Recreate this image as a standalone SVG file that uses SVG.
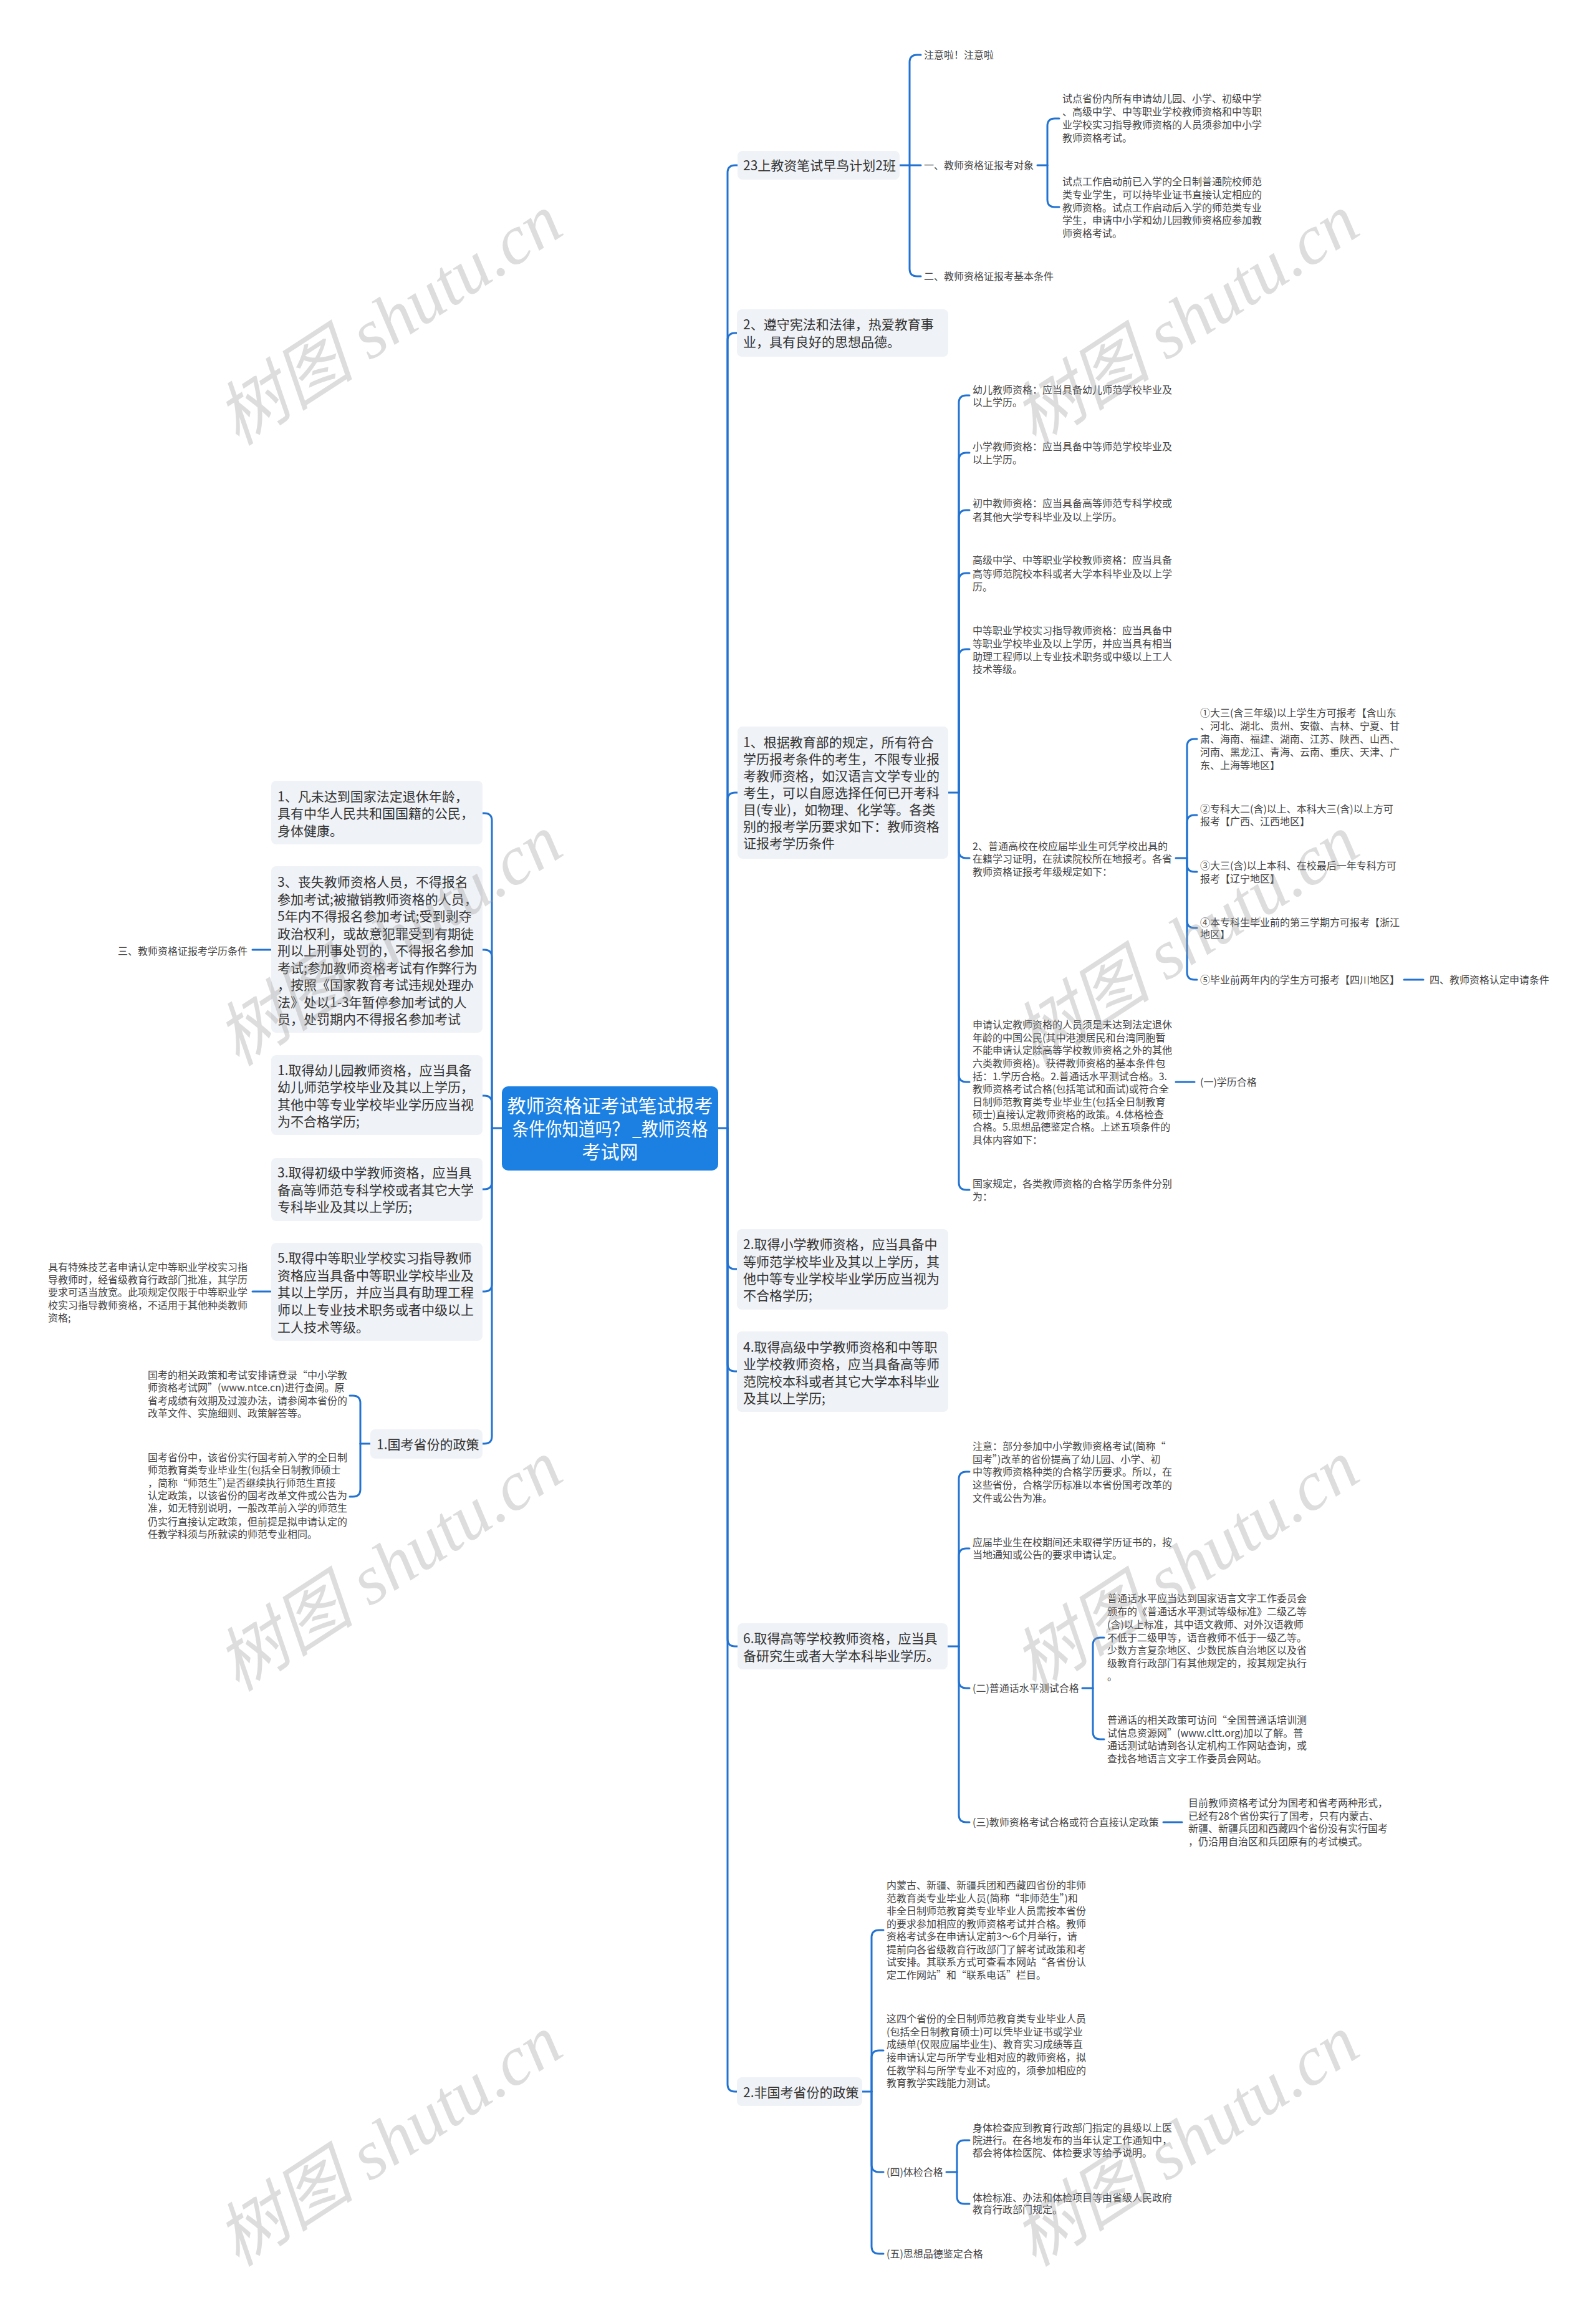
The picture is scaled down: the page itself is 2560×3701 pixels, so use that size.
<svg xmlns="http://www.w3.org/2000/svg" width="2560" height="3701" viewBox="0 0 2560 3701">
<style>
text{font-family:"Noto Sans CJK SC","Noto Sans",sans-serif}
.b{fill:#eff2f6}
.t1{font-size:21px;fill:#333}
.t2{font-size:16px;fill:#444}
.c{fill:none;stroke:#2273d1;stroke-width:3;stroke-linecap:round}
.wm{font-family:"Liberation Serif","Noto Sans CJK SC",serif;font-style:italic;font-size:112px;fill:#9a9a9a;opacity:0.33;text-anchor:middle}
</style>
<rect width="2560" height="3701" fill="#ffffff"/>

<g id="connectors">
<path class="c" d="M1152 1809 H1167"/>
<path class="c" d="M1167 1809 V277 Q1167 265 1179 265 H1183"/>
<path class="c" d="M1167 1809 V546 Q1167 534 1179 534 H1182"/>
<path class="c" d="M1167 1809 V1283 Q1167 1271 1179 1271 H1183"/>
<path class="c" d="M1167 1809 V2023 Q1167 2035 1179 2035 H1182"/>
<path class="c" d="M1167 1809 V2187 Q1167 2199 1179 2199 H1182"/>
<path class="c" d="M1167 1809 V2628 Q1167 2640 1179 2640 H1183"/>
<path class="c" d="M1167 1809 V3342 Q1167 3354 1179 3354 H1182"/>

<path class="c" d="M1443 265 H1459"/>
<path class="c" d="M1459 265 V100 Q1459 88 1471 88 H1477"/>
<path class="c" d="M1459 265 H1477"/>
<path class="c" d="M1459 265 V431 Q1459 443 1471 443 H1477"/>

<path class="c" d="M1664 265 H1680"/>
<path class="c" d="M1680 265 V202 Q1680 190 1692 190 H1699"/>
<path class="c" d="M1680 265 V320 Q1680 332 1692 332 H1699"/>

<path class="c" d="M1521 1271 H1538"/>
<path class="c" d="M1538 1271 V646 Q1538 634 1550 634 H1555"/>
<path class="c" d="M1538 1271 V738 Q1538 726 1550 726 H1555"/>
<path class="c" d="M1538 1271 V830 Q1538 818 1550 818 H1555"/>
<path class="c" d="M1538 1271 V931 Q1538 919 1550 919 H1555"/>
<path class="c" d="M1538 1271 V1053 Q1538 1041 1550 1041 H1555"/>
<path class="c" d="M1538 1271 V1364 Q1538 1376 1550 1376 H1555"/>
<path class="c" d="M1538 1271 V1723 Q1538 1735 1550 1735 H1555"/>
<path class="c" d="M1538 1271 V1896 Q1538 1908 1550 1908 H1555"/>

<path class="c" d="M1886 1376 H1904"/>
<path class="c" d="M1904 1376 V1197 Q1904 1185 1916 1185 H1920"/>
<path class="c" d="M1904 1376 V1319 Q1904 1307 1916 1307 H1920"/>
<path class="c" d="M1904 1376 V1386 Q1904 1398 1916 1398 H1920"/>
<path class="c" d="M1904 1376 V1476 Q1904 1488 1916 1488 H1920"/>
<path class="c" d="M1904 1376 V1559 Q1904 1571 1916 1571 H1920"/>
<path class="c" d="M2252 1571 H2283"/>
<path class="c" d="M1886 1735 H1916"/>

<path class="c" d="M1520 2640 H1538"/>
<path class="c" d="M1538 2640 V2372 Q1538 2360 1550 2360 H1555"/>
<path class="c" d="M1538 2640 V2495 Q1538 2483 1550 2483 H1555"/>
<path class="c" d="M1538 2640 V2695 Q1538 2707 1550 2707 H1555"/>
<path class="c" d="M1538 2640 V2910 Q1538 2922 1550 2922 H1555"/>

<path class="c" d="M1736 2707 H1753"/>
<path class="c" d="M1753 2707 V2638 Q1753 2626 1765 2626 H1771"/>
<path class="c" d="M1753 2707 V2777 Q1753 2789 1765 2789 H1771"/>
<path class="c" d="M1866 2922 H1896"/>

<path class="c" d="M1383 3354 H1398"/>
<path class="c" d="M1398 3354 V3107 Q1398 3095 1410 3095 H1417"/>
<path class="c" d="M1398 3354 V3300 Q1398 3288 1410 3288 H1417"/>
<path class="c" d="M1398 3354 V3471 Q1398 3483 1410 3483 H1417"/>
<path class="c" d="M1398 3354 V3602 Q1398 3614 1410 3614 H1417"/>

<path class="c" d="M1518 3483 H1535"/>
<path class="c" d="M1535 3483 V3444 Q1535 3432 1547 3432 H1555"/>
<path class="c" d="M1535 3483 V3522 Q1535 3534 1547 3534 H1555"/>

<path class="c" d="M805 1809 H789"/>
<path class="c" d="M789 1809 V1316 Q789 1304 777 1304 H774"/>
<path class="c" d="M789 1809 V1535 Q789 1523 777 1523 H774"/>
<path class="c" d="M789 1809 V1769 Q789 1757 777 1757 H774"/>
<path class="c" d="M789 1809 V1895 Q789 1907 777 1907 H774"/>
<path class="c" d="M789 1809 V2059 Q789 2071 777 2071 H774"/>
<path class="c" d="M789 1809 V2303 Q789 2315 777 2315 H774"/>

<path class="c" d="M434 1523 H405"/>
<path class="c" d="M434 2071 H405"/>
<path class="c" d="M594 2315 H578"/>
<path class="c" d="M578 2315 V2250 Q578 2238 566 2238 H561"/>
<path class="c" d="M578 2315 V2388 Q578 2400 566 2400 H561"/>
</g>

<g id="root">
<rect x="805" y="1742" width="347" height="135" rx="10" fill="#1c80e3"/>
<text font-size="30" fill="#ffffff" text-anchor="middle"><tspan x="978.5" y="1784">教师资格证考试笔试报考</tspan><tspan x="978.5" y="1821" textLength="314" lengthAdjust="spacingAndGlyphs">条件你知道吗？ _教师资格</tspan><tspan x="978.5" y="1858">考试网</tspan></text>
</g>

<g id="n-23">
<rect class="b" x="1183" y="242" width="260" height="46" rx="8"/>
<text class="t1" x="1192" y="273">23上教资笔试早鸟计划2班</text>
</g>
<g id="n-zhuyi"><text class="t2" x="1482" y="94">注意啦！注意啦</text></g>
<g id="n-yi"><text class="t2" x="1482" y="271">一、教师资格证报考对象</text></g>
<g id="n-er"><text class="t2" x="1482" y="449">二、教师资格证报考基本条件</text></g>
<g id="n-yi-1"><text class="t2"><tspan x="1704" y="164">试点省份内所有申请幼儿园、小学、初级中学</tspan><tspan x="1704" y="185">、高级中学、中等职业学校教师资格和中等职</tspan><tspan x="1704" y="206">业学校实习指导教师资格的人员须参加中小学</tspan><tspan x="1704" y="227">教师资格考试。</tspan></text></g>
<g id="n-yi-2"><text class="t2"><tspan x="1704" y="297">试点工作启动前已入学的全日制普通院校师范</tspan><tspan x="1704" y="318">类专业学生，可以持毕业证书直接认定相应的</tspan><tspan x="1704" y="339">教师资格。试点工作启动后入学的师范类专业</tspan><tspan x="1704" y="359">学生，申请中小学和幼儿园教师资格应参加教</tspan><tspan x="1704" y="380">师资格考试。</tspan></text></g>

<g id="n-zunshou">
<rect class="b" x="1182" y="496" width="339" height="76" rx="8"/>
<text class="t1"><tspan x="1192" y="528">2、遵守宪法和法律，热爱教育事</tspan><tspan x="1192" y="556">业，具有良好的思想品德。</tspan></text>
</g>

<g id="n-genju">
<rect class="b" x="1183" y="1165" width="338" height="212" rx="8"/>
<text class="t1"><tspan x="1192" y="1198">1、根据教育部的规定，所有符合</tspan><tspan x="1192" y="1225">学历报考条件的考生，不限专业报</tspan><tspan x="1192" y="1252">考教师资格，如汉语言文学专业的</tspan><tspan x="1192" y="1279">考生，可以自愿选择任何已开考科</tspan><tspan x="1192" y="1306">目(专业)，如物理、化学等。各类</tspan><tspan x="1192" y="1333">别的报考学历要求如下：教师资格</tspan><tspan x="1192" y="1360">证报考学历条件</tspan></text>
</g>
<g id="n-youer"><text class="t2"><tspan x="1560" y="631">幼儿教师资格：应当具备幼儿师范学校毕业及</tspan><tspan x="1560" y="651">以上学历。</tspan></text></g>
<g id="n-xiaoxue"><text class="t2"><tspan x="1560" y="722">小学教师资格：应当具备中等师范学校毕业及</tspan><tspan x="1560" y="743">以上学历。</tspan></text></g>
<g id="n-chuzhong"><text class="t2"><tspan x="1560" y="813">初中教师资格：应当具备高等师范专科学校或</tspan><tspan x="1560" y="835">者其他大学专科毕业及以上学历。</tspan></text></g>
<g id="n-gaozhong"><text class="t2"><tspan x="1560" y="904">高级中学、中等职业学校教师资格：应当具备</tspan><tspan x="1560" y="926">高等师范院校本科或者大学本科毕业及以上学</tspan><tspan x="1560" y="947">历。</tspan></text></g>
<g id="n-zhongzhi"><text class="t2"><tspan x="1560" y="1017">中等职业学校实习指导教师资格：应当具备中</tspan><tspan x="1560" y="1038">等职业学校毕业及以上学历，并应当具有相当</tspan><tspan x="1560" y="1059">助理工程师以上专业技术职务或中级以上工人</tspan><tspan x="1560" y="1079">技术等级。</tspan></text></g>
<g id="n-putonggaoxiao"><text class="t2"><tspan x="1560" y="1363">2、普通高校在校应届毕业生可凭学校出具的</tspan><tspan x="1560" y="1383">在籍学习证明，在就读院校所在地报考。各省</tspan><tspan x="1560" y="1404">教师资格证报考年级规定如下：</tspan></text></g>
<g id="n-q1"><text class="t2"><tspan x="1925" y="1149">①大三(含三年级)以上学生方可报考【含山东</tspan><tspan x="1925" y="1170">、河北、湖北、贵州、安徽、吉林、宁夏、甘</tspan><tspan x="1925" y="1191">肃、海南、福建、湖南、江苏、陕西、山西、</tspan><tspan x="1925" y="1212">河南、黑龙江、青海、云南、重庆、天津、广</tspan><tspan x="1925" y="1233">东、上海等地区】</tspan></text></g>
<g id="n-q2"><text class="t2"><tspan x="1925" y="1303">②专科大二(含)以上、本科大三(含)以上方可</tspan><tspan x="1925" y="1323">报考【广西、江西地区】</tspan></text></g>
<g id="n-q3"><text class="t2"><tspan x="1925" y="1394">③大三(含)以上本科、在校最后一年专科方可</tspan><tspan x="1925" y="1415">报考【辽宁地区】</tspan></text></g>
<g id="n-q4"><text class="t2"><tspan x="1925" y="1485">④本专科生毕业前的第三学期方可报考【浙江</tspan><tspan x="1925" y="1504">地区】</tspan></text></g>
<g id="n-q5"><text class="t2" x="1925" y="1577">⑤毕业前两年内的学生方可报考【四川地区】</text></g>
<g id="n-si"><text class="t2" x="2293" y="1577">四、教师资格认定申请条件</text></g>
<g id="n-shenqing"><text class="t2"><tspan x="1560" y="1649">申请认定教师资格的人员须是未达到法定退休</tspan><tspan x="1560" y="1670">年龄的中国公民(其中港澳居民和台湾同胞暂</tspan><tspan x="1560" y="1690">不能申请认定除高等学校教师资格之外的其他</tspan><tspan x="1560" y="1711">六类教师资格)。获得教师资格的基本条件包</tspan><tspan x="1560" y="1732">括：1.学历合格。2.普通话水平测试合格。3.</tspan><tspan x="1560" y="1752">教师资格考试合格(包括笔试和面试)或符合全</tspan><tspan x="1560" y="1773">日制师范教育类专业毕业生(包括全日制教育</tspan><tspan x="1560" y="1793">硕士)直接认定教师资格的政策。4.体格检查</tspan><tspan x="1560" y="1813">合格。5.思想品德鉴定合格。上述五项条件的</tspan><tspan x="1560" y="1834">具体内容如下：</tspan></text></g>
<g id="n-xueli"><text class="t2" x="1925" y="1741">(一)学历合格</text></g>
<g id="n-guojia"><text class="t2"><tspan x="1560" y="1904">国家规定，各类教师资格的合格学历条件分别</tspan><tspan x="1560" y="1925">为：</tspan></text></g>

<g id="n-xiaoxue2">
<rect class="b" x="1182" y="1971" width="339" height="129" rx="8"/>
<text class="t1"><tspan x="1192" y="2003">2.取得小学教师资格，应当具备中</tspan><tspan x="1192" y="2031">等师范学校毕业及其以上学历，其</tspan><tspan x="1192" y="2058">他中等专业学校毕业学历应当视为</tspan><tspan x="1192" y="2085">不合格学历;</tspan></text>
</g>
<g id="n-gaoji">
<rect class="b" x="1182" y="2135" width="339" height="129" rx="8"/>
<text class="t1"><tspan x="1192" y="2168">4.取得高级中学教师资格和中等职</tspan><tspan x="1192" y="2195">业学校教师资格，应当具备高等师</tspan><tspan x="1192" y="2223">范院校本科或者其它大学本科毕业</tspan><tspan x="1192" y="2250">及其以上学历;</tspan></text>
</g>

<g id="n-gaodeng">
<rect class="b" x="1183" y="2603" width="337" height="74" rx="8"/>
<text class="t1"><tspan x="1192" y="2635">6.取得高等学校教师资格，应当具</tspan><tspan x="1192" y="2663">备研究生或者大学本科毕业学历。</tspan></text>
</g>
<g id="n-zhuyi2"><text class="t2"><tspan x="1560" y="2325">注意：部分参加中小学教师资格考试(简称“</tspan><tspan x="1560" y="2346">国考”)改革的省份提高了幼儿园、小学、初</tspan><tspan x="1560" y="2366">中等教师资格种类的合格学历要求。所以，在</tspan><tspan x="1560" y="2387">这些省份，合格学历标准以本省份国考改革的</tspan><tspan x="1560" y="2408">文件或公告为准。</tspan></text></g>
<g id="n-yingjie"><text class="t2"><tspan x="1560" y="2479">应届毕业生在校期间还未取得学历证书的，按</tspan><tspan x="1560" y="2499">当地通知或公告的要求申请认定。</tspan></text></g>
<g id="n-putonghua"><text class="t2" x="1560" y="2713">(二)普通话水平测试合格</text></g>
<g id="n-pth1"><text class="t2"><tspan x="1776" y="2569">普通话水平应当达到国家语言文字工作委员会</tspan><tspan x="1776" y="2590">颁布的《普通话水平测试等级标准》二级乙等</tspan><tspan x="1776" y="2611">(含)以上标准，其中语文教师、对外汉语教师</tspan><tspan x="1776" y="2632">不低于二级甲等，语音教师不低于一级乙等。</tspan><tspan x="1776" y="2652">少数方言复杂地区、少数民族自治地区以及省</tspan><tspan x="1776" y="2673">级教育行政部门有其他规定的，按其规定执行</tspan><tspan x="1776" y="2694">。</tspan></text></g>
<g id="n-pth2"><text class="t2"><tspan x="1776" y="2764">普通话的相关政策可访问“全国普通话培训测</tspan><tspan x="1776" y="2785">试信息资源网”(www.cltt.org)加以了解。普</tspan><tspan x="1776" y="2805">通话测试站请到各认定机构工作网站查询，或</tspan><tspan x="1776" y="2826">查找各地语言文字工作委员会网站。</tspan></text></g>
<g id="n-san"><text class="t2" x="1560" y="2928">(三)教师资格考试合格或符合直接认定政策</text></g>
<g id="n-muqian"><text class="t2"><tspan x="1906" y="2897">目前教师资格考试分为国考和省考两种形式，</tspan><tspan x="1906" y="2918">已经有28个省份实行了国考，只有内蒙古、</tspan><tspan x="1906" y="2938">新疆、新疆兵团和西藏四个省份没有实行国考</tspan><tspan x="1906" y="2959">，仍沿用自治区和兵团原有的考试模式。</tspan></text></g>

<g id="n-feiguokao">
<rect class="b" x="1182" y="3331" width="201" height="46" rx="8"/>
<text class="t1" x="1192" y="3363">2.非国考省份的政策</text>
</g>
<g id="n-neimeng"><text class="t2"><tspan x="1422" y="3029">内蒙古、新疆、新疆兵团和西藏四省份的非师</tspan><tspan x="1422" y="3050">范教育类专业毕业人员(简称“非师范生”)和</tspan><tspan x="1422" y="3070">非全日制师范教育类专业毕业人员需按本省份</tspan><tspan x="1422" y="3091">的要求参加相应的教师资格考试并合格。教师</tspan><tspan x="1422" y="3111">资格考试多在申请认定前3～6个月举行，请</tspan><tspan x="1422" y="3132">提前向各省级教育行政部门了解考试政策和考</tspan><tspan x="1422" y="3152">试安排。其联系方式可查看本网站“各省份认</tspan><tspan x="1422" y="3173">定工作网站”和“联系电话”栏目。</tspan></text></g>
<g id="n-zhesige"><text class="t2"><tspan x="1422" y="3243">这四个省份的全日制师范教育类专业毕业人员</tspan><tspan x="1422" y="3264">(包括全日制教育硕士)可以凭毕业证书或学业</tspan><tspan x="1422" y="3284">成绩单(仅限应届毕业生)、教育实习成绩等直</tspan><tspan x="1422" y="3305">接申请认定与所学专业相对应的教师资格，拟</tspan><tspan x="1422" y="3326">任教学科与所学专业不对应的，须参加相应的</tspan><tspan x="1422" y="3346">教育教学实践能力测试。</tspan></text></g>
<g id="n-tijian"><text class="t2" x="1422" y="3489">(四)体检合格</text></g>
<g id="n-tijian1"><text class="t2"><tspan x="1560" y="3418">身体检查应到教育行政部门指定的县级以上医</tspan><tspan x="1560" y="3438">院进行。在各地发布的当年认定工作通知中，</tspan><tspan x="1560" y="3458">都会将体检医院、体检要求等给予说明。</tspan></text></g>
<g id="n-tijian2"><text class="t2"><tspan x="1560" y="3530">体检标准、办法和体检项目等由省级人民政府</tspan><tspan x="1560" y="3549">教育行政部门规定。</tspan></text></g>
<g id="n-wu"><text class="t2" x="1422" y="3620">(五)思想品德鉴定合格</text></g>

<g id="n-fanweida">
<rect class="b" x="435" y="1252" width="339" height="102" rx="8"/>
<text class="t1"><tspan x="445" y="1285">1、凡未达到国家法定退休年龄，</tspan><tspan x="445" y="1312">具有中华人民共和国国籍的公民，</tspan><tspan x="445" y="1340">身体健康。</tspan></text>
</g>
<g id="n-sangshi">
<rect class="b" x="435" y="1389" width="339" height="267" rx="8"/>
<text class="t1"><tspan x="445" y="1422">3、丧失教师资格人员，不得报名</tspan><tspan x="445" y="1449.5">参加考试;被撤销教师资格的人员，</tspan><tspan x="445" y="1477">5年内不得报名参加考试;受到剥夺</tspan><tspan x="445" y="1504.5">政治权利，或故意犯罪受到有期徒</tspan><tspan x="445" y="1532">刑以上刑事处罚的，不得报名参加</tspan><tspan x="445" y="1559.5">考试;参加教师资格考试有作弊行为</tspan><tspan x="445" y="1587">，按照《国家教育考试违规处理办</tspan><tspan x="445" y="1614.5">法》处以1-3年暂停参加考试的人</tspan><tspan x="445" y="1642">员，处罚期内不得报名参加考试</tspan></text>
</g>
<g id="n-san-left"><text class="t2" x="397" y="1531" text-anchor="end">三、教师资格证报考学历条件</text></g>
<g id="n-youeryuan">
<rect class="b" x="435" y="1692" width="339" height="128" rx="8"/>
<text class="t1"><tspan x="445" y="1724">1.取得幼儿园教师资格，应当具备</tspan><tspan x="445" y="1751">幼儿师范学校毕业及其以上学历，</tspan><tspan x="445" y="1779">其他中等专业学校毕业学历应当视</tspan><tspan x="445" y="1806">为不合格学历;</tspan></text>
</g>
<g id="n-chuji">
<rect class="b" x="435" y="1857" width="339" height="101" rx="8"/>
<text class="t1"><tspan x="445" y="1888">3.取得初级中学教师资格，应当具</tspan><tspan x="445" y="1916">备高等师范专科学校或者其它大学</tspan><tspan x="445" y="1943">专科毕业及其以上学历;</tspan></text>
</g>
<g id="n-zhongzhi2">
<rect class="b" x="435" y="1993" width="339" height="157" rx="8"/>
<text class="t1"><tspan x="445" y="2025">5.取得中等职业学校实习指导教师</tspan><tspan x="445" y="2053">资格应当具备中等职业学校毕业及</tspan><tspan x="445" y="2080">其以上学历，并应当具有助理工程</tspan><tspan x="445" y="2108">师以上专业技术职务或者中级以上</tspan><tspan x="445" y="2136">工人技术等级。</tspan></text>
</g>
<g id="n-teshu"><text class="t2"><tspan x="77" y="2038">具有特殊技艺者申请认定中等职业学校实习指</tspan><tspan x="77" y="2058">导教师时，经省级教育行政部门批准，其学历</tspan><tspan x="77" y="2078">要求可适当放宽。此项规定仅限于中等职业学</tspan><tspan x="77" y="2099">校实习指导教师资格，不适用于其他种类教师</tspan><tspan x="77" y="2119">资格;</tspan></text></g>
<g id="n-guokao">
<rect class="b" x="594" y="2292" width="180" height="47" rx="8"/>
<text class="t1" x="604" y="2324">1.国考省份的政策</text>
</g>
<g id="n-guokao1"><text class="t2"><tspan x="237" y="2211">国考的相关政策和考试安排请登录“中小学教</tspan><tspan x="237" y="2231">师资格考试网”(www.ntce.cn)进行查阅。原</tspan><tspan x="237" y="2252">省考成绩有效期及过渡办法，请参阅本省份的</tspan><tspan x="237" y="2272">改革文件、实施细则、政策解答等。</tspan></text></g>
<g id="n-guokao2"><text class="t2"><tspan x="237" y="2343">国考省份中，该省份实行国考前入学的全日制</tspan><tspan x="237" y="2363">师范教育类专业毕业生(包括全日制教师硕士</tspan><tspan x="237" y="2384">，简称“师范生”)是否继续执行师范生直接</tspan><tspan x="237" y="2404">认定政策，以该省份的国考改革文件或公告为</tspan><tspan x="237" y="2424">准，如无特别说明，一般改革前入学的师范生</tspan><tspan x="237" y="2446">仍实行直接认定政策，但前提是拟申请认定的</tspan><tspan x="237" y="2466">任教学科须与所就读的师范专业相同。</tspan></text></g>

<g id="watermarks">
<text class="wm" transform="translate(645 545) rotate(-33)">树图 shutu.cn</text>
<text class="wm" transform="translate(1923 545) rotate(-33)">树图 shutu.cn</text>
<text class="wm" transform="translate(645 1540) rotate(-33)">树图 shutu.cn</text>
<text class="wm" transform="translate(1923 1540) rotate(-33)">树图 shutu.cn</text>
<text class="wm" transform="translate(645 2543) rotate(-33)">树图 shutu.cn</text>
<text class="wm" transform="translate(1923 2543) rotate(-33)">树图 shutu.cn</text>
<text class="wm" transform="translate(645 3465) rotate(-33)">树图 shutu.cn</text>
<text class="wm" transform="translate(1923 3465) rotate(-33)">树图 shutu.cn</text>
</g>
</svg>
